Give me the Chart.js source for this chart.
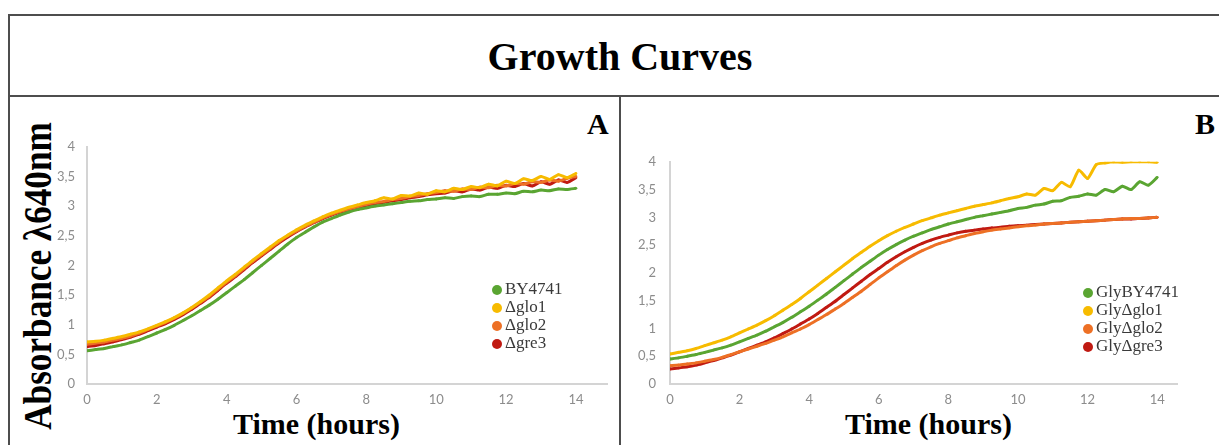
<!DOCTYPE html>
<html>
<head>
<meta charset="utf-8">
<script src="https://cdn.jsdelivr.net/npm/chart.js@4.4.1/dist/chart.umd.min.js"></script>
<style>
  body { margin: 0; width: 1219px; height: 445px; background: #fff; position: relative; overflow: hidden; }
  .serif { font-family: "Liberation Serif", "DejaVu Serif", serif; font-weight: bold; color: #000; position: absolute; white-space: nowrap; }
  .line { position: absolute; background: #4d4d4d; }
  canvas { position: absolute; }
  .legend { position: absolute; font-family: "Liberation Serif", serif; font-size: 17px; color: #3a3a3a; }
  .legend div { height: 18px; line-height: 18px; white-space: nowrap; }
  .legend span { display: inline-block; width: 10px; height: 10px; border-radius: 50%; margin-right: 3px; vertical-align: -1px; }
</style>
</head>
<body>
<!-- frame -->
<div class="line" style="left:8px; top:14px; width:1211px; height:2px;"></div>
<div class="line" style="left:8px; top:14px; width:2px; height:431px;"></div>
<div class="line" style="left:8px; top:95px; width:1211px; height:2px;"></div>
<div class="line" style="left:619px; top:95px; width:2px; height:350px;"></div>

<div class="serif" style="left:0; width:1240px; text-align:center; top:33px; font-size:40px;">Growth Curves</div>
<div class="serif" style="left:587px; top:107px; font-size:30px;">A</div>
<div class="serif" style="left:1195px; top:107px; font-size:30px;">B</div>
<div class="serif" id="ylab" style="left:37px; top:276px; font-size:40px; transform: translate(-50%, -50%) rotate(-90deg) scaleX(0.88);">Absorbance λ640nm</div>
<div class="serif" style="left:233px; top:407px; font-size:30px;">Time (hours)</div>
<div class="serif" style="left:845px; top:407px; font-size:30px;">Time (hours)</div>

<canvas id="chartA" width="560" height="290" style="left:55px; top:127px;"></canvas>
<canvas id="chartB" width="560" height="277" style="left:635px; top:140px;"></canvas>
<div class="legend" id="legendA" style="left:492px; top:280px;"></div>
<div class="legend" id="legendB" style="left:1083px; top:283px;"></div>

<script>
// time in hours
const hours = [0,0.25,0.5,0.75,1,1.25,1.5,1.75,2,2.25,2.5,2.75,3,3.25,3.5,3.75,4,4.25,4.5,4.75,5,5.25,5.5,5.75,6,6.25,6.5,6.75,7,7.25,7.5,7.75,8,8.25,8.5,8.75,9,9.25,9.5,9.75,10,10.25,10.5,10.75,11,11.25,11.5,11.75,12,12.25,12.5,12.75,13,13.25,13.5,13.75,14];

// panel A
const aBY4741 = [0.56,0.58,0.60,0.63,0.66,0.70,0.74,0.80,0.86,0.92,0.99,1.07,1.15,1.24,1.33,1.43,1.54,1.65,1.76,1.88,2.00,2.12,2.24,2.36,2.47,2.56,2.65,2.73,2.79,2.85,2.90,2.94,2.97,3.00,3.02,3.04,3.06,3.08,3.09,3.11,3.12,3.14,3.13,3.16,3.17,3.16,3.20,3.20,3.22,3.21,3.25,3.24,3.27,3.26,3.29,3.28,3.30];
const aGlo1 = [0.71,0.72,0.74,0.77,0.80,0.84,0.88,0.93,0.99,1.05,1.12,1.20,1.29,1.39,1.50,1.62,1.74,1.85,1.97,2.09,2.20,2.31,2.42,2.51,2.60,2.68,2.75,2.82,2.88,2.93,2.98,3.02,3.06,3.09,3.14,3.12,3.18,3.17,3.22,3.20,3.26,3.24,3.30,3.28,3.33,3.31,3.37,3.34,3.42,3.38,3.46,3.43,3.50,3.45,3.53,3.48,3.55];
const aGlo2 = [0.67,0.69,0.71,0.74,0.77,0.81,0.86,0.92,0.98,1.04,1.11,1.19,1.28,1.38,1.48,1.60,1.72,1.83,1.95,2.07,2.18,2.29,2.40,2.50,2.58,2.66,2.73,2.80,2.86,2.91,2.95,2.99,3.03,3.06,3.08,3.11,3.13,3.16,3.18,3.21,3.23,3.26,3.25,3.29,3.28,3.32,3.31,3.35,3.34,3.38,3.37,3.41,3.40,3.44,3.42,3.47,3.50];
const aGre3 = [0.63,0.65,0.68,0.71,0.75,0.79,0.84,0.90,0.96,1.02,1.09,1.17,1.26,1.36,1.46,1.58,1.70,1.81,1.93,2.05,2.16,2.27,2.38,2.48,2.57,2.65,2.72,2.79,2.85,2.90,2.94,2.98,3.01,3.04,3.06,3.09,3.11,3.14,3.16,3.19,3.21,3.22,3.26,3.24,3.29,3.27,3.32,3.30,3.35,3.33,3.38,3.34,3.41,3.37,3.44,3.40,3.48];

// panel B (glycerol)
const bBY4741 = [0.45,0.47,0.50,0.53,0.57,0.61,0.65,0.70,0.76,0.82,0.88,0.95,1.03,1.11,1.20,1.30,1.40,1.51,1.62,1.74,1.86,1.98,2.10,2.21,2.32,2.42,2.51,2.59,2.66,2.72,2.78,2.83,2.88,2.92,2.96,3.00,3.03,3.06,3.09,3.12,3.16,3.18,3.22,3.24,3.29,3.30,3.36,3.38,3.42,3.40,3.50,3.46,3.56,3.50,3.64,3.58,3.72];
const bGlo1 = [0.54,0.57,0.60,0.64,0.69,0.74,0.79,0.85,0.92,0.99,1.06,1.14,1.23,1.33,1.43,1.54,1.66,1.78,1.90,2.02,2.14,2.26,2.37,2.48,2.58,2.67,2.75,2.82,2.88,2.94,2.99,3.04,3.08,3.12,3.16,3.20,3.23,3.26,3.30,3.34,3.37,3.42,3.40,3.52,3.48,3.63,3.55,3.85,3.70,3.95,3.98,4.00,3.99,4.00,4.00,4.00,3.99];
const bGlo2 = [0.33,0.34,0.36,0.38,0.41,0.44,0.48,0.53,0.58,0.63,0.68,0.73,0.79,0.85,0.92,0.99,1.07,1.16,1.25,1.35,1.45,1.56,1.67,1.79,1.91,2.02,2.13,2.23,2.32,2.40,2.47,2.53,2.58,2.63,2.67,2.71,2.74,2.77,2.79,2.81,2.83,2.85,2.86,2.88,2.89,2.90,2.91,2.92,2.93,2.94,2.95,2.96,2.97,2.98,2.98,2.99,3.00];
const bGre3 = [0.27,0.29,0.31,0.34,0.38,0.42,0.47,0.52,0.58,0.64,0.70,0.76,0.83,0.91,0.99,1.08,1.17,1.27,1.38,1.49,1.61,1.73,1.85,1.97,2.08,2.19,2.29,2.38,2.46,2.53,2.59,2.64,2.68,2.72,2.75,2.77,2.79,2.81,2.82,2.84,2.85,2.86,2.87,2.88,2.89,2.90,2.91,2.92,2.93,2.94,2.95,2.96,2.97,2.97,2.98,2.99,3.00];

const namesA = ['BY4741', 'Δglo1', 'Δglo2', 'Δgre3'];
const namesB = ['GlyBY4741', 'GlyΔglo1', 'GlyΔglo2', 'GlyΔgre3'];
const colors = ['#5aa532', '#f7bb00', '#ed7025', '#c01a12'];
const yTicks = [0, 0.5, 1, 1.5, 2, 2.5, 3, 3.5, 4];

function points(vals) {
  return hours.map((h, i) => ({ x: h, y: vals[i] }));
}

function makeChart(id, series, opts) {
  // draw order: green, yellow, orange, red on top
  const datasets = series.map((vals, i) => ({
    data: points(vals),
    borderColor: colors[i],
    backgroundColor: colors[i],
    borderWidth: 3,
    pointRadius: 1.4,
    pointBorderWidth: 0,
    tension: 0.2
  }));
  return new Chart(document.getElementById(id), {
    type: 'line',
    data: { datasets },
    options: {
      responsive: false,
      animation: false,
      devicePixelRatio: 1,
      layout: { padding: opts.padding },
      plugins: { legend: { display: false }, tooltip: { enabled: false } },
      scales: {
        x: {
          type: 'linear', min: 0, max: opts.xMax,
          grid: { display: false, drawTicks: false },
          border: { display: true, color: '#d4d4d4', width: 2 },
          afterBuildTicks: ax => { ax.ticks = [0, 2, 4, 6, 8, 10, 12, 14].map(v => ({ value: v })); },
          afterFit: ax => { ax.height = 24; },
          ticks: { color: '#8c8c8c', font: { family: 'Lato', size: 13 }, padding: 8, maxRotation: 0 }
        },
        y: {
          min: 0, max: 4,
          grid: { display: false, drawTicks: false },
          border: { display: true, color: '#d4d4d4', width: 2 },
          afterBuildTicks: ax => { ax.ticks = yTicks.map(v => ({ value: v })); },
          afterFit: ax => { ax.width = opts.yWidth; },
          ticks: {
            color: '#8c8c8c', font: { family: 'Lato', size: 13 }, padding: opts.yPad,
            callback: v => String(v).replace('.', ',')
          }
        }
      }
    }
  });
}

makeChart('chartA', [aBY4741, aGlo1, aGlo2, aGre3], { xMax: 14.89, yWidth: 32, yPad: 12, padding: { top: 12, right: 8, left: 0, bottom: 9 } });
makeChart('chartB', [bBY4741, bGlo1, bGlo2, bGre3], { xMax: 14.57, yWidth: 35, yPad: 14, padding: { top: 12, right: 18, left: 0, bottom: 9 } });

function buildLegend(id, names) {
  const box = document.getElementById(id);
  names.forEach((n, i) => {
    const row = document.createElement('div');
    row.innerHTML = '<span style="background:' + colors[i] + '"></span>' + n;
    box.appendChild(row);
  });
}
buildLegend('legendA', namesA);
buildLegend('legendB', namesB);
</script>
</body>
</html>
